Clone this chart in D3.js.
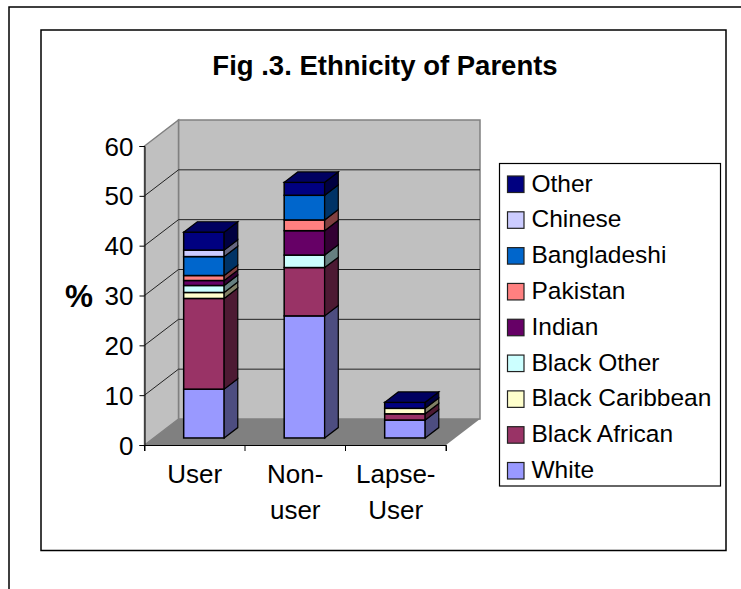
<!DOCTYPE html>
<html>
<head>
<meta charset="utf-8">
<script src="https://cdn.jsdelivr.net/npm/d3@7"></script>
<style>
html, body { margin: 0; padding: 0; background: #fff; }
svg { display: block; }
text { font-family: "Liberation Sans", Arial, sans-serif; fill: #000; }
</style>
</head>
<body>
<svg id="chart" width="741" height="589"></svg>
<script>
// Stacked survey percentages by parent group, bottom segment first.
const groups = ["User", "Non-user", "Lapse-User"];
const groupLines = [["User"], ["Non-", "user"], ["Lapse-", "User"]];
const ethnicities = ["White", "Black African", "Black Caribbean", "Black Other", "Indian", "Pakistan", "Bangladeshi", "Chinese", "Other"];
const colours = ["#9999ff", "#993366", "#ffffcc", "#ccffff", "#660066", "#ff8080", "#0066cc", "#ccccff", "#000080"];
const userValues = [9.8, 18.2, 1.2, 1.4, 1.0, 1.0, 3.8, 1.3, 3.6];
const nonUserValues = [24.5, 9.7, 0, 2.5, 4.9, 2.15, 4.95, 0, 2.6];
const lapseUserValues = [3.6, 1.25, 1.1, 0, 0, 0, 0, 0, 1.2];
const seriesByGroup = [userValues, nonUserValues, lapseUserValues];
const yTicks = [0, 10, 20, 30, 40, 50, 60];
const legendOrder = ethnicities.slice().reverse();

const svg = d3.select("#chart");

// Page border (open on the right and bottom) and chart-area frame
svg.append("path")
  .attr("d", "M9,589V7H741")
  .attr("fill", "none").attr("stroke", "#000").attr("stroke-width", 1.5);
svg.append("rect")
  .attr("x", 41).attr("y", 30).attr("width", 685).attr("height", 520.5)
  .attr("fill", "#fff").attr("stroke", "#000").attr("stroke-width", 1.5);

svg.append("text")
  .attr("x", 385).attr("y", 75)
  .attr("text-anchor", "middle")
  .attr("font-size", 27.5).attr("font-weight", "bold")
  .text("Fig .3. Ethnicity of Parents");

// Oblique projection: the front plane uses the scales, depth shifts up and to the right
const x = d3.scaleBand().domain(groups).range([144.5, 446]);
const y = d3.scaleLinear().domain([0, 60]).range([445, 146]);
const depth = { dx: 34, dy: -26 };
const barInset = { x: 40.5, depth: 0.27, widthDepth: 0.4 };

const plot = svg.append("g");
const poly = pts => "M" + pts.map(p => p.join(",")).join("L") + "Z";
const [x0, x1] = x.range();
const [yBase, yTop] = y.range();

// Walls and floor
plot.append("path")
  .attr("d", poly([[x0 + depth.dx, yBase + depth.dy], [x1 + depth.dx, yBase + depth.dy], [x1 + depth.dx, yTop + depth.dy], [x0 + depth.dx, yTop + depth.dy]]))
  .attr("fill", "#c0c0c0").attr("stroke", "#808080").attr("stroke-width", 1.5);
plot.append("path")
  .attr("d", poly([[x0, yBase], [x0 + depth.dx, yBase + depth.dy], [x0 + depth.dx, yTop + depth.dy], [x0, yTop]]))
  .attr("fill", "#c0c0c0").attr("stroke", "#808080").attr("stroke-width", 1.5);
plot.append("path")
  .attr("d", poly([[x0, yBase], [x1, yBase], [x1 + depth.dx, yBase + depth.dy], [x0 + depth.dx, yBase + depth.dy]]))
  .attr("fill", "#808080");

// Gridlines run along the side wall and across the back wall
plot.selectAll(".grid").data(yTicks.slice(1, -1)).join("path")
  .attr("class", "grid")
  .attr("d", d => `M${x0},${y(d)}L${x0 + depth.dx},${y(d) + depth.dy}H${x1 + depth.dx}`)
  .attr("fill", "none").attr("stroke", "#222").attr("stroke-width", 1);

// Axis lines and tick marks
const yAxis = d3.axisLeft(y).tickValues(yTicks).tickSize(5).tickFormat("");
plot.append("g").attr("transform", `translate(${x0},0)`).call(yAxis)
  .call(g => g.selectAll("path,line").attr("stroke", "#000").attr("stroke-width", 1));
const xAxis = d3.axisBottom(x).tickSize(6).tickFormat("");
const xAxisG = plot.append("g").attr("transform", `translate(0,${yBase})`).call(xAxis);
xAxisG.selectAll(".tick").remove();
xAxisG.select("path").attr("stroke", "#000").attr("stroke-width", 1);
plot.selectAll(".xtick").data(x.domain().map(d => x(d)).concat([x1])).join("line")
  .attr("class", "xtick")
  .attr("x1", d => d).attr("x2", d => d).attr("y1", yBase).attr("y2", yBase + 6)
  .attr("stroke", "#000");

plot.selectAll(".ylabel").data(yTicks).join("text")
  .attr("class", "ylabel")
  .attr("x", 133.5).attr("y", d => y(d) + 9.5)
  .attr("text-anchor", "end").attr("font-size", 26)
  .text(d => d);

svg.append("text")
  .attr("x", 79).attr("y", 306.5)
  .attr("text-anchor", "middle").attr("font-size", 31.5).attr("font-weight", "bold")
  .text("%");

groupLines.forEach((lines, i) => {
  const cx = x(groups[i]) + x.bandwidth() / 2;
  lines.forEach((line, j) => {
    svg.append("text")
      .attr("x", cx).attr("y", 483 + j * 36)
      .attr("text-anchor", "middle").attr("font-size", 26)
      .text(line);
  });
});

// Bars: each segment gets a front face and a darker side; the stack is capped with a top face
const shade = (c, k) => d3.interpolateRgb("#000", c)(k);
groups.forEach((g, i) => {
  const off = { x: depth.dx * barInset.depth, y: depth.dy * barInset.depth };
  const run = { x: depth.dx * barInset.widthDepth, y: depth.dy * barInset.widthDepth };
  const left = x(g) + (x.bandwidth() - barInset.x) / 2 + off.x;
  const right = left + barInset.x;
  const py = v => y(v) + off.y;
  const stack = svg.append("g");
  let acc = 0;
  const segs = [];
  seriesByGroup[i].forEach((v, k) => {
    if (v > 0) { segs.push({ from: acc, to: acc + v, colour: colours[k] }); acc += v; }
  });
  segs.forEach(s => {
    stack.append("rect")
      .attr("x", left).attr("y", py(s.to))
      .attr("width", right - left).attr("height", py(s.from) - py(s.to))
      .attr("fill", s.colour).attr("stroke", "#000").attr("stroke-width", 1.5);
    stack.append("path")
      .attr("d", poly([[right, py(s.from)], [right + run.x, py(s.from) + run.y], [right + run.x, py(s.to) + run.y], [right, py(s.to)]]))
      .attr("fill", shade(s.colour, 0.5)).attr("stroke", "#000").attr("stroke-width", 1.2);
  });
  const last = segs[segs.length - 1];
  stack.append("path")
    .attr("d", poly([[left, py(acc)], [right, py(acc)], [right + run.x, py(acc) + run.y], [left + run.x, py(acc) + run.y]]))
    .attr("fill", shade(last.colour, 0.75)).attr("stroke", "#000").attr("stroke-width", 1.2);
});

// Legend, listed top of stack first
const legend = svg.append("g");
legend.append("rect")
  .attr("x", 499.5).attr("y", 163.5).attr("width", 221).attr("height", 322.5)
  .attr("fill", "#fff").attr("stroke", "#000").attr("stroke-width", 1.2);
const legendY = d3.scalePoint().domain(legendOrder).range([184, 470.5]);
const legendRow = legend.selectAll("g").data(legendOrder).join("g")
  .attr("transform", d => `translate(0,${legendY(d)})`);
legendRow.append("rect")
  .attr("x", 507.5).attr("y", -8).attr("width", 16.5).attr("height", 16.5)
  .attr("fill", d => colours[ethnicities.indexOf(d)])
  .attr("stroke", "#222").attr("stroke-width", 1.2);
legendRow.append("text")
  .attr("x", 531.5).attr("y", 7.5)
  .attr("font-size", 24.5)
  .text(d => d);
</script>
</body>
</html>
